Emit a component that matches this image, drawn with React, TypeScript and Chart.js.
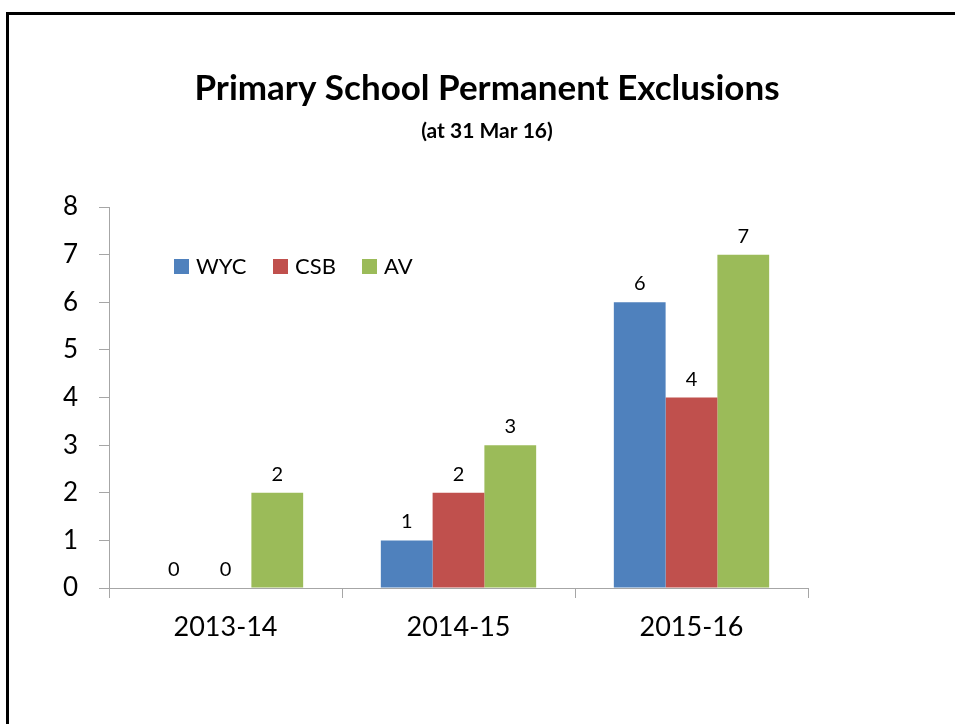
import React, { useEffect, useRef } from "react";
import { Chart, registerables } from "chart.js";

Chart.register(...registerables);

const categories = ["2013-14", "2014-15", "2015-16"];
const seriesNames = ["WYC", "CSB", "AV"];
const wycValues = [0, 1, 6];
const csbValues = [0, 2, 4];
const avValues = [2, 3, 7];
const seriesColors = ["#4F81BD", "#C0504D", "#9BBB59"];
const yMin = 0;
const yMax = 8;
const yStep = 1;
const titleText = "Primary School Permanent Exclusions";
const subtitleText = "(at 31 Mar 16)";

const FONT = "Lato, 'Open Sans', sans-serif";
const AXIS_COLOR = "#a6a6a6";

const decorPlugin = {
  id: "decor",
  beforeDraw(chart: any) {
    const ctx = chart.ctx;
    ctx.save();
    ctx.fillStyle = "#ffffff";
    ctx.fillRect(0, 0, chart.width, chart.height);
    // outer frame
    ctx.strokeStyle = "#000000";
    ctx.lineWidth = 3;
    ctx.beginPath();
    ctx.moveTo(7.5, chart.height + 5);
    ctx.lineTo(7.5, 13.5);
    ctx.lineTo(chart.width + 5, 13.5);
    ctx.stroke();
    // title
    ctx.fillStyle = "#000000";
    ctx.textAlign = "center";
    ctx.textBaseline = "middle";
    ctx.font = `bold 35px ${FONT}`;
    ctx.fillText(titleText, 487, 89);
    ctx.font = `bold 21px ${FONT}`;
    ctx.fillText(subtitleText, 487, 131);
    ctx.restore();
  },
  afterDatasetsDraw(chart: any) {
    const ctx = chart.ctx;
    ctx.save();
    ctx.fillStyle = "#000000";
    ctx.textAlign = "center";
    ctx.textBaseline = "alphabetic";
    ctx.font = `20px ${FONT}`;
    chart.data.datasets.forEach((ds: any, i: number) => {
      const meta = chart.getDatasetMeta(i);
      meta.data.forEach((bar: any, j: number) => {
        ctx.fillText(String(ds.data[j]), bar.x, bar.y - 12);
      });
    });
    // legend
    const boxX = [174, 273, 362];
    ctx.textAlign = "left";
    ctx.textBaseline = "middle";
    ctx.font = `22px ${FONT}`;
    chart.data.datasets.forEach((ds: any, i: number) => {
      ctx.fillStyle = ds.backgroundColor;
      ctx.fillRect(boxX[i], 259, 15, 15);
      ctx.fillStyle = "#000000";
      ctx.fillText(ds.label, boxX[i] + 22, 267);
    });
    ctx.restore();
  },
};

export default function App() {
  const canvasRef = useRef<HTMLCanvasElement | null>(null);

  useEffect(() => {
    if (!canvasRef.current) return;
    const valueLists = [wycValues, csbValues, avValues];
    const chart = new Chart(canvasRef.current, {
      type: "bar",
      data: {
        labels: categories,
        datasets: seriesNames.map((name, i) => ({
          label: name,
          data: valueLists[i],
          backgroundColor: seriesColors[i],
          borderWidth: 0,
          categoryPercentage: 3 / 4.5,
          barPercentage: 1,
        })),
      },
      options: {
        responsive: false,
        animation: false,
        layout: { padding: { left: 0, right: 147, top: 207, bottom: 0 } },
        plugins: {
          legend: { display: false },
          title: { display: false },
          tooltip: { enabled: false },
        },
        scales: {
          x: {
            grid: {
              offset: true,
              drawOnChartArea: false,
              drawTicks: true,
              tickLength: 10,
              color: AXIS_COLOR,
            },
            border: { color: AXIS_COLOR, width: 1 },
            ticks: {
              color: "#000000",
              font: { family: FONT, size: 27 },
              padding: 13,
            },
            afterFit: (s: any) => {
              s.height = 136;
            },
          },
          y: {
            min: yMin,
            max: yMax,
            grid: {
              drawOnChartArea: false,
              drawTicks: true,
              tickLength: 10,
              color: AXIS_COLOR,
            },
            border: { color: AXIS_COLOR, width: 1 },
            ticks: {
              stepSize: yStep,
              color: "#000000",
              font: { family: FONT, size: 26 },
              padding: 21,
            },
            afterFit: (s: any) => {
              s.width = 109;
            },
          },
        },
      },
      plugins: [decorPlugin],
    });
    return () => chart.destroy();
  }, []);

  return (
    <div style={{ position: "absolute", left: 0, top: 0, width: 955, height: 724 }}>
      <canvas ref={canvasRef} width={955} height={724} style={{ display: "block" }} />
    </div>
  );
}
